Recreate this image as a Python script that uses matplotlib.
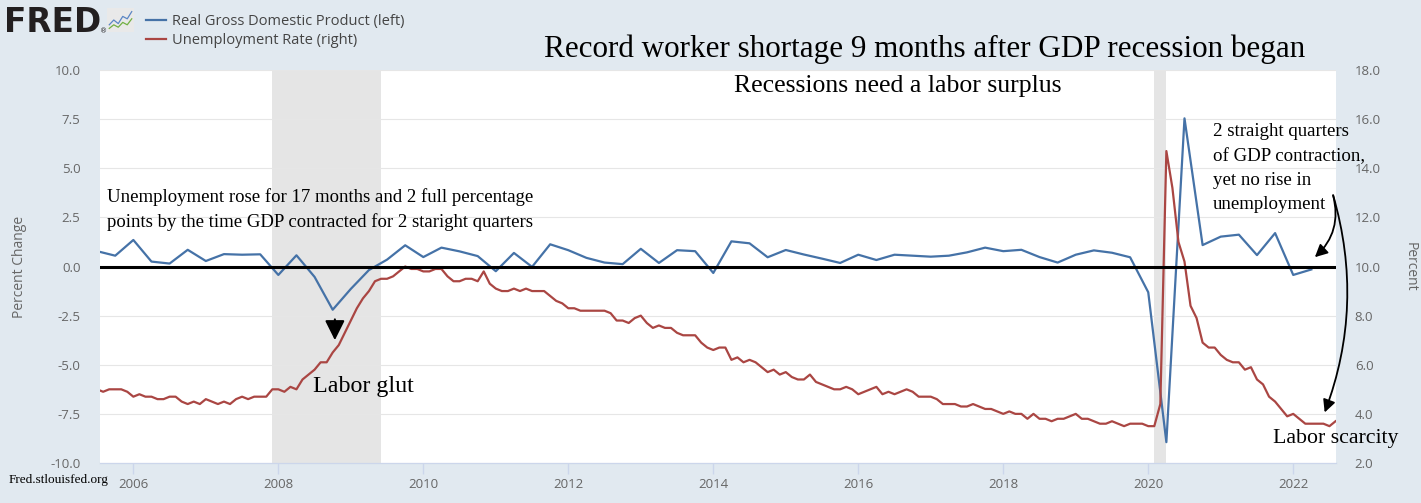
import numpy as np
import matplotlib.pyplot as plt
from matplotlib.ticker import FuncFormatter

W, H = 1421, 503

# Real GDP, percent change from previous quarter, 2005Q3 .. 2022Q2
gdp_start = 2005.5
gdp_pch = [0.78, 0.55,
           1.35, 0.25, 0.15, 0.85,
           0.28, 0.63, 0.60, 0.62,
           -0.43, 0.57, -0.53, -2.20,
           -1.14, -0.18, 0.35, 1.08,
           0.48, 0.96, 0.77, 0.53,
           -0.24, 0.69, -0.02, 1.13,
           0.83, 0.44, 0.20, 0.12,
           0.90, 0.18, 0.83, 0.78,
           -0.33, 1.28, 1.18, 0.47,
           0.84, 0.61, 0.40, 0.18,
           0.60, 0.33, 0.60, 0.55,
           0.50, 0.55, 0.72, 0.96,
           0.78, 0.85, 0.48, 0.20,
           0.60, 0.82, 0.70, 0.47,
           -1.31, -8.94, 7.54, 1.09,
           1.52, 1.62, 0.58, 1.70,
           -0.43, -0.15]

# Unemployment rate, monthly, Jul 2005 .. Aug 2022
unrate_start = 2005.5
unrate = [5.0, 4.9, 5.0, 5.0, 5.0, 4.9,
          4.7, 4.8, 4.7, 4.7, 4.6, 4.6, 4.7, 4.7, 4.5, 4.4, 4.5, 4.4,
          4.6, 4.5, 4.4, 4.5, 4.4, 4.6, 4.7, 4.6, 4.7, 4.7, 4.7, 5.0,
          5.0, 4.9, 5.1, 5.0, 5.4, 5.6, 5.8, 6.1, 6.1, 6.5, 6.8, 7.3,
          7.8, 8.3, 8.7, 9.0, 9.4, 9.5, 9.5, 9.6, 9.8, 10.0, 9.9, 9.9,
          9.8, 9.8, 9.9, 9.9, 9.6, 9.4, 9.4, 9.5, 9.5, 9.4, 9.8, 9.3,
          9.1, 9.0, 9.0, 9.1, 9.0, 9.1, 9.0, 9.0, 9.0, 8.8, 8.6, 8.5,
          8.3, 8.3, 8.2, 8.2, 8.2, 8.2, 8.2, 8.1, 7.8, 7.8, 7.7, 7.9,
          8.0, 7.7, 7.5, 7.6, 7.5, 7.5, 7.3, 7.2, 7.2, 7.2, 6.9, 6.7,
          6.6, 6.7, 6.7, 6.2, 6.3, 6.1, 6.2, 6.1, 5.9, 5.7, 5.8, 5.6,
          5.7, 5.5, 5.4, 5.4, 5.6, 5.3, 5.2, 5.1, 5.0, 5.0, 5.1, 5.0,
          4.8, 4.9, 5.0, 5.1, 4.8, 4.9, 4.8, 4.9, 5.0, 4.9, 4.7, 4.7,
          4.7, 4.6, 4.4, 4.4, 4.4, 4.3, 4.3, 4.4, 4.3, 4.2, 4.2, 4.1,
          4.0, 4.1, 4.0, 4.0, 3.8, 4.0, 3.8, 3.8, 3.7, 3.8, 3.8, 3.9,
          4.0, 3.8, 3.8, 3.7, 3.6, 3.6, 3.7, 3.6, 3.5, 3.6, 3.6, 3.6,
          3.5, 3.5, 4.4, 14.7, 13.2, 11.0, 10.2, 8.4, 7.9, 6.9, 6.7, 6.7,
          6.4, 6.2, 6.1, 6.1, 5.8, 5.9, 5.4, 5.2, 4.7, 4.5, 4.2, 3.9,
          4.0, 3.8, 3.6, 3.6, 3.6, 3.6, 3.5, 3.7]

# NBER recessions (start, end) as decimal years
recessions = [(2007 + 11 / 12, 2009 + 5 / 12), (2020 + 1 / 12, 2020 + 3 / 12)]

year_ticks = [2006, 2008, 2010, 2012, 2014, 2016, 2018, 2020, 2022]
left_ticks = [-10, -7.5, -5, -2.5, 0, 2.5, 5, 7.5, 10]
right_ticks = [2, 4, 6, 8, 10, 12, 14, 16, 18]

# little FRED logo chart
logo_blue = [0.3, 0.5, 0.35, 0.65, 0.55, 0.85]
logo_green = [0.15, 0.3, 0.2, 0.4, 0.3, 0.55]

BLUE = '#4572a7'
RED = '#aa4643'
BG = '#e1e9f0'
SANS = 'Open Sans'
SERIF = 'Liberation Serif'

gdp_x = gdp_start + np.arange(len(gdp_pch)) / 4
ur_x = unrate_start + np.arange(len(unrate)) / 12

fig = plt.figure(figsize=(W / 100, H / 100), dpi=100, facecolor=BG)
ax = fig.add_axes([100 / W, 1 - 463 / H, 1236 / W, 393 / H])
ax2 = ax.twinx()

ax.set_facecolor('white')
for r0, r1 in recessions:
    ax.axvspan(r0, r1, color='#e5e5e5', lw=0, zorder=0)
gdp_line, = ax.plot(gdp_x, gdp_pch, color=BLUE, lw=1.6, zorder=3)
ur_line, = ax2.plot(ur_x, unrate, color=RED, lw=1.6, zorder=3)
ax2.axhline(10, color='black', lw=2.2, zorder=5)

ax.set_xlim(2005.54, 2022.59)
ax.set_ylim(-10, 10)
ax2.set_ylim(2, 18)
ax.set_xticks(year_ticks)
ax.set_yticks(left_ticks)
ax2.set_yticks(right_ticks)
fmt = FuncFormatter(lambda v, p: '%.1f' % v)
ax.yaxis.set_major_formatter(fmt)
ax2.yaxis.set_major_formatter(fmt)
ax.grid(axis='y', color='#e6e6e6', lw=0.8)
ax.set_axisbelow(True)

for a in (ax, ax2):
    for s in ('top', 'left', 'right'):
        a.spines[s].set_visible(False)
    a.spines['bottom'].set_color('#ccd6eb')
ax.tick_params(axis='y', length=0, pad=14, labelsize=9.5, labelcolor='#666666')
ax2.tick_params(axis='y', length=0, pad=13.5, labelsize=9.5, labelcolor='#666666')
ax.tick_params(axis='x', length=8, width=1, color='#ccd6eb', pad=3,
               labelsize=9.5, labelcolor='#666666')
for a in (ax, ax2):
    for lab in a.get_xticklabels() + a.get_yticklabels():
        lab.set_fontfamily(SANS)

fig.text(20 / W, 1 - 267 / H, 'Percent Change', rotation=90, ha='center',
         va='center', fontsize=10, color='#666666', family=SANS)
fig.text(1410 / W, 1 - 267 / H, 'Percent', rotation=270, ha='center',
         va='center', fontsize=10, color='#666666', family=SANS)

# legend
fig.legend([gdp_line, ur_line],
           ['Real Gross Domestic Product (left)', 'Unemployment Rate (right)'],
           loc='upper left', bbox_to_anchor=(136 / W, 1 - 4 / H), frameon=False,
           prop={'family': SANS, 'size': 10.5}, labelcolor='#444444',
           handlelength=1.35, handletextpad=0.4, labelspacing=0.25,
           borderpad=0.2)

# FRED logo
fig.text(4 / W, 1 - 31.7 / H, 'FRED', ha='left', va='baseline',
         fontsize=23.6, fontweight='bold', color='#231f20', family='DejaVu Sans')
fig.text(100 / W, 1 - 33 / H, '\u00ae', fontsize=5, color='#231f20')
lax = fig.add_axes([107 / W, 1 - 32 / H, 27 / W, 24 / H])
lax.set_facecolor('#e9e9e9')
lax.plot(np.arange(len(logo_blue)), logo_blue, color='#5b86c5', lw=0.9)
lax.plot(np.arange(len(logo_green)), logo_green, color='#72b043', lw=0.9)
lax.set_xlim(-0.5, len(logo_blue) - 0.5)
lax.set_ylim(0, 1)
lax.set_xticks([])
lax.set_yticks([])
for s in lax.spines.values():
    s.set_visible(False)

# titles and notes (baseline of the last line given for multi-line notes)
fig.text(925 / W, 1 - 56.7 / H,
         'Record worker shortage 9 months after GDP recession began',
         ha='center', va='baseline', fontsize=22.4, family=SERIF, color='black')
ax.text(2016.54, 8.9, 'Recessions need a labor surplus', ha='center',
        va='baseline', fontsize=18.5, family=SERIF, zorder=6)
ax.text(2005.64, 2.03,
        'Unemployment rose for 17 months and 2 full percentage\n'
        'points by the time GDP contracted for 2 staright quarters',
        ha='left', va='baseline', fontsize=13.5, family=SERIF,
        linespacing=1.52, zorder=6)
ax.text(2008.48, -6.37, 'Labor glut', ha='left', va='baseline',
        fontsize=17.3, family=SERIF, zorder=6)
ax.text(2021.72, -9.0, 'Labor scarcity', ha='left', va='baseline',
        fontsize=15.7, family=SERIF, zorder=6)
ax.text(2020.896, 2.91,
        '2 straight quarters\nof GDP contraction,\nyet no rise in\nunemployment',
        ha='left', va='baseline', fontsize=13.6, family=SERIF,
        linespacing=1.56, zorder=6)
fig.text(9 / W, 1 - 482.7 / H, 'Fred.stlouisfed.org', ha='left',
         va='baseline', fontsize=9.5, family=SERIF)

# arrows
ax.annotate('', xy=(2008.78, -3.89), xytext=(2008.78, -2.55),
            arrowprops=dict(arrowstyle='-|>,head_length=0.6,head_width=0.3',
                            mutation_scale=20, color='black', lw=1.5),
            zorder=6)
ax.annotate('', xy=(2022.27, 0.38), xytext=(2022.54, 3.76),
            arrowprops=dict(arrowstyle='-|>,head_length=0.5,head_width=0.25',
                            mutation_scale=15, color='black', lw=1.3,
                            connectionstyle='arc3,rad=-0.32'),
            annotation_clip=False, zorder=6)
ax.annotate('', xy=(2022.42, -7.56), xytext=(2022.54, 3.76),
            arrowprops=dict(arrowstyle='-|>,head_length=0.5,head_width=0.25',
                            mutation_scale=15, color='black', lw=1.3,
                            connectionstyle='arc3,rad=-0.17'),
            annotation_clip=False, zorder=6)

fig.savefig('out.png', dpi=100, facecolor=BG)
